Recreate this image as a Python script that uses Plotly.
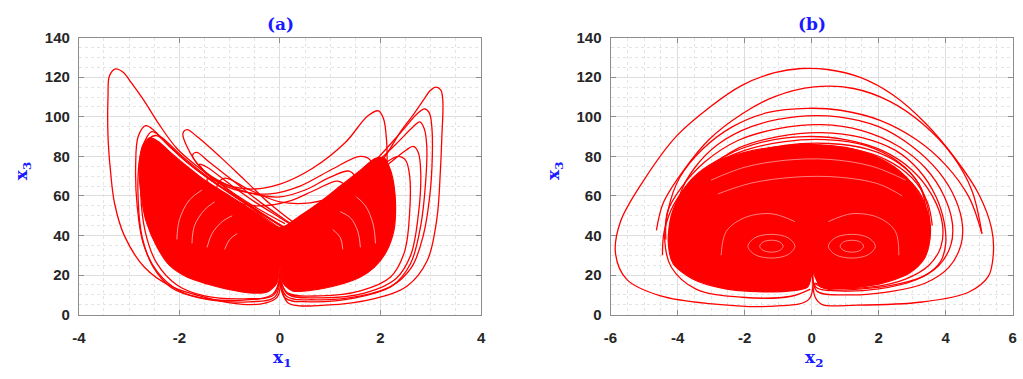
import plotly.graph_objects as go

# ---------------- tick labels ----------------
a_tick_vals = [-4, -2, 0, 2, 4]
a_tick_text = ["-4", "-2", "0", "2", "4"]
b_tick_vals = [-6, -4, -2, 0, 2, 4, 6]
b_tick_text = ["-6", "-4", "-2", "0", "2", "4", "6"]
z_tick_vals = [0, 20, 40, 60, 80, 100, 120, 140]
z_tick_text = ["0", "20", "40", "60", "80", "100", "120", "140"]

# ---------------- panel (a): x1 vs x3 ----------------
# densely visited core of the attractor
a_core_x = [0.0, -0.5, -1.0, -1.5, -1.9, -2.2, -2.42, -2.58, -2.72, -2.8, -2.76, -2.66, -2.44, -2.2, -1.85,
            -1.45, -1.07, -0.6, -0.25, -0.06, 0.0, 0.06, 0.25, 0.6, 1.23, 1.6, 1.88, 2.12, 2.27, 2.3, 2.27,
            2.2, 2.08, 1.9, 1.6, 1.2, 0.8, 0.4, 0.0]
a_core_y = [44, 52, 60, 68, 76, 82.5, 87.5, 89.5, 86, 75, 60, 47, 34, 25, 19,
            15.5, 13, 11, 11.5, 16, 24, 16, 12, 12.2, 15.5, 19, 24, 32, 43, 55, 65,
            73, 79, 79, 73, 65, 57, 50, 44]

# individual excursions
a_loop1_x = [0.02, -0.05, -0.3, -0.74, -1.39, -2.18, -2.7, -3.1, -3.29, -3.37, -3.42, -3.42, -3.39, -3.27,
             -3.12, -2.95, -2.7, -2.4, -2.05, -1.6, -1.26, -0.8, -0.3, 0.2, 0.6]
a_loop1_y = [22, 9, 5.8, 5.2, 8.1, 14.5, 24.1, 40.2, 56.3, 72.4, 90, 110, 120.7, 124.2,
             122.5, 117, 108, 96, 84, 74, 67.6, 58.5, 49, 40, 33]
a_loop2_x = [0.0, 0.05, 0.18, 0.9, 1.88, 2.53, 2.93, 3.12, 3.19, 3.22, 3.24, 3.2, 3.1, 2.98, 2.88, 2.65,
             2.42, 1.96, 1.4, 0.8, 0.3, -0.3, -0.8]
a_loop2_y = [21, 11.3, 5.6, 4.8, 8.1, 14.5, 27.4, 48.3, 72.4, 90, 107.8, 113.5, 115, 113, 109.4, 101,
             93.3, 75.6, 64, 54, 47, 38, 30]
a_loop3_x = [0.0, -0.1, -0.6, -1.4, -2.0, -2.45, -2.72, -2.84, -2.87, -2.82, -2.67, -2.5, -2.2, -1.7,
             -1.1, -0.5, 0.1, 0.6]
a_loop3_y = [22, 9, 6.5, 7.5, 12, 22, 36, 55, 75, 90, 95.5, 93, 85, 74, 63, 53, 44, 37]
a_loop4_x = [0.0, -0.12, -0.7, -1.5, -2.05, -2.45, -2.68, -2.77, -2.74, -2.6, -2.45, -2.25, -1.8, -1.2,
             -0.6, 0.0, 0.5]
a_loop4_y = [21, 10, 8, 9.5, 15, 26, 42, 62, 80, 89, 90.5, 86.5, 76, 65, 55, 45, 38]
a_loop5_x = [0.0, 0.1, 0.6, 1.5, 2.2, 2.62, 2.85, 2.98, 3.03, 3.02, 2.97, 2.88, 2.75, 2.4, 1.9, 1.3,
             0.7, 0.2, -0.3]
a_loop5_y = [22, 8.5, 6.5, 8.5, 14, 24, 40, 60, 80, 95, 102, 104, 102, 92, 78, 64, 53, 45, 38]
a_loop6_x = [0.0, 0.12, 0.7, 1.6, 2.25, 2.6, 2.8, 2.9, 2.92, 2.87, 2.78, 2.65, 2.3, 1.8, 1.2, 0.6, 0.1]
a_loop6_y = [21, 9.5, 7.5, 9.5, 15, 26, 45, 68, 85, 94, 97.4, 95, 86, 74, 62, 52, 44]
a_loop7_x = [0.0, 0.15, 0.8, 1.7, 2.3, 2.6, 2.75, 2.8, 2.75, 2.65, 2.5, 2.1, 1.5, 0.9, 0.3]
a_loop7_y = [20, 10.5, 8.5, 11, 18, 30, 50, 72, 82, 85, 83, 75, 64, 55, 46]
a_loop8_x = [0.0, 0.15, 0.8, 1.6, 2.2, 2.48, 2.58, 2.58, 2.5, 2.35, 2.0, 1.4, 0.8, 0.2]
a_loop8_y = [19, 11, 9.5, 12, 19, 32, 52, 70, 78, 80, 75, 65, 56, 46]
a_loop9_x = [0.0, -0.14, -0.8, -1.6, -2.15, -2.52, -2.74, -2.82, -2.8, -2.7, -2.55, -2.35, -1.9, -1.3,
             -0.7, -0.1, 0.4]
a_loop9_y = [20, 10.5, 7.2, 8.6, 13.5, 24, 39, 58, 77, 87, 92.5, 89.5, 79, 67, 57, 47, 39]
# crossings from one wing to the other over the top
a_cross1_x = [2.1, 2.13, 2.12, 2.06, 1.96, 1.75, 1.3, 0.65, 0.0, -0.6, -1.2, -1.6, -1.85, -1.93, -1.85,
              -1.65, -1.2, -0.7, -0.2, 0.3, 0.8]
a_cross1_y = [50, 70, 88, 99, 103, 100.5, 87, 74, 66, 63.5, 67, 75, 85, 91.5, 93.5,
              90, 80, 68, 56, 46, 37]
a_cross2_x = [1.8, 1.85, 1.8, 1.6, 1.0, 0.4, -0.2, -0.8, -1.3, -1.62, -1.74, -1.66, -1.4, -0.9, -0.4,
              0.1, 0.6]
a_cross2_y = [55, 70, 78, 80, 73, 65, 61, 62.5, 68, 75.5, 80.5, 82, 77, 67, 57, 48, 40]
a_cross3_x = [1.5, 1.52, 1.38, 1.0, 0.5, 0.0, -0.6, -1.2, -1.52, -1.6, -1.45, -1.0, -0.5, 0.0, 0.5]
a_cross3_y = [58, 68, 72.5, 69.5, 63, 59.5, 61.5, 67.5, 73, 76, 74.5, 66, 57, 49, 41]
a_cross4_x = [1.3, 1.32, 1.15, 0.7, 0.2, -0.4, -1.0, -1.35, -1.45, -1.3, -0.9, -0.4, 0.1]
a_cross4_y = [55, 64, 67.5, 63, 57.5, 55, 58, 64, 68.5, 68, 61, 53, 46]
a_cross5_x = [-1.2, -1.25, -1.1, -0.6, 0.0, 0.6, 1.2, 1.6, 1.75, 1.85, 1.9]
a_cross5_y = [55, 65, 69, 63, 57, 56.5, 61, 68, 74, 68, 55]
# thin gaps between neighbouring turns inside the wings
a_gap1_x = [-2.05, -2.0, -1.8, -1.55]
a_gap1_y = [38, 48, 58, 63]
a_gap2_x = [-1.75, -1.7, -1.5, -1.3]
a_gap2_y = [36, 45, 53, 57]
a_gap3_x = [-1.45, -1.35, -1.15, -0.95]
a_gap3_y = [34, 41, 47, 50]
a_gap4_x = [-1.1, -1.0, -0.85]
a_gap4_y = [33, 38, 41]
a_gap5_x = [1.9, 1.85, 1.7, 1.5]
a_gap5_y = [36, 46, 55, 60]
a_gap6_x = [1.6, 1.55, 1.4, 1.2]
a_gap6_y = [34, 42, 49, 52]
a_gap7_x = [1.25, 1.2, 1.05]
a_gap7_y = [33, 39, 43]

# ---------------- panel (b): x2 vs x3 ----------------
b_core_x = [-4.28, -4.19, -3.94, -3.55, -2.9, -2.0, -1.0, 0.0, 1.0, 1.9, 2.6, 3.05, 3.38, 3.54, 3.5,
            3.35, 2.92, 2.04, 0.86, 0.27, 0.03, -0.12, -1.1, -2.57, -3.55, -4.14, -4.28]
b_core_y = [37, 50, 60, 69, 77, 82, 85, 86, 84.5, 80, 73, 65, 55, 45, 35,
            28, 21, 15.5, 13.2, 14, 21, 14, 11.5, 13, 18, 26, 37]

b_loop1_x = [0.0, -0.07, -1.1, -3.06, -4.53, -5.51, -5.85, -5.71, -5.02, -4.04, -3.06, -2.08, -1.1, -0.31,
             0.47, 1.45, 2.43, 3.41, 4.29, 4.98, 5.37, 5.42, 5.27, 4.68, 3.3, 1.34, 0.3, 0.1, 0.03]
b_loop1_y = [24, 8, 4.3, 5.6, 9.6, 17.7, 30.6, 46.7, 67.6, 90.1, 104.6, 115.9, 122.3, 124.4,
             123.9, 119.9, 111, 96.5, 78.8, 61.1, 43.4, 30.6, 19.3, 11.3, 6.4, 4.8, 5.2, 9, 19]
b_loop2_x = [-4.63, -4.43, -3.84, -3.06, -2.08, -1.1, 0.08, 1.25, 2.33, 3.31, 4.2, 4.78, 5.08]
b_loop2_y = [42.6, 56.3, 72.4, 88.5, 101.4, 110.2, 115.1, 114.3, 107.8, 96.5, 80.5, 62.8, 41.0]
b_loop3_x = [5.08, 4.69, 4.0, 3.12, 2.04, 0.86, -0.12, -1.29, -2.37, -3.25, -3.94, -4.28, -4.38, -4.19,
             -3.45, -2.08, -0.61, -0.04]
b_loop3_y = [41.0, 59.5, 75.6, 88.5, 98.2, 103.3, 104.3, 102.2, 94.9, 83.7, 69.2, 53.1, 37.0, 24.1,
             12.9, 8.8, 9.3, 12.9]
b_loop4_x = [-3.8, -4.05, -3.9, -3.5, -2.8, -1.8, -0.5, 0.8, 2.0, 3.0, 3.8, 4.3, 4.5, 4.45, 4.1, 3.4,
             2.3, 1.0, 0.15, 0.03]
b_loop4_y = [40, 50, 62, 74, 86, 95, 100, 100, 95, 85, 72, 58, 45, 35, 24, 16, 11.5, 10, 12, 22]
b_loop5_x = [-4.35, -4.3, -3.9, -3.2, -2.2, -1.0, 0.3, 1.5, 2.6, 3.4, 3.95, 4.2, 4.15, 3.8, 3.1, 2.0,
             0.8, 0.12, 0.02]
b_loop5_y = [38, 52, 64, 77, 88, 94, 96, 93, 85, 74, 60, 46, 35, 25, 17.5, 13, 12, 14, 24]
b_loop6_x = [-4.45, -4.4, -4.1, -3.5, -2.6, -1.4, -0.2, 1.0, 2.1, 3.0, 3.6, 3.9, 3.85, 3.5, 2.8, 1.8,
             0.7, 0.1]
b_loop6_y = [30, 42, 56, 69, 80, 87.5, 90, 88.5, 83, 73, 60, 46, 34, 25, 18, 14, 13.5, 16]
b_loop7_x = [-4.2, -4.1, -3.7, -3.0, -2.0, -0.8, 0.4, 1.6, 2.6, 3.2, 3.48, 3.53]
b_loop7_y = [30, 50, 63, 75, 83, 87.5, 88.5, 85.5, 77, 66, 53, 43]
b_loop8_x = [3.53, 3.45, 3.2, 2.7, 2.0]
b_loop8_y = [43, 52, 62, 71, 78]
b_loop9_x = [-3.9, -3.7, -3.1, -2.2, -1.0, 0.3, 1.5, 2.5, 3.2, 3.7, 3.95, 4.0, 3.85, 3.4, 2.6, 1.5,
             0.5, 0.06]
b_loop9_y = [45, 60, 73, 84, 90, 92, 89.5, 83, 73, 60, 47, 36, 27, 20, 15.5, 13, 12.8, 16]
b_loop10_x = [-4.0, -3.9, -3.4, -2.6, -1.5, -0.2, 1.1, 2.2, 3.0, 3.45, 3.6]
b_loop10_y = [40, 55, 67, 77, 83, 85.5, 84, 78.5, 69, 57, 45]
b_loop11_x = [-3.7, -3.5, -2.9, -2.0, -0.8, 0.5, 1.7, 2.6, 3.2, 3.4]
b_loop11_y = [45, 60, 72, 80.5, 85.5, 86.5, 83.5, 76.5, 66, 55]

# thin unvisited rings around the two foci and gaps between turns
b_ring1_x = [-1.9, -1.7, -1.2, -0.7, -0.5, -0.7, -1.2, -1.7, -1.9]
b_ring1_y = [34.6, 38.8, 40.6, 38.8, 34.6, 30.4, 28.6, 30.4, 34.6]
b_ring2_x = [-1.55, -1.45, -1.2, -0.95, -0.85, -0.95, -1.2, -1.45, -1.55]
b_ring2_y = [34.6, 36.7, 37.6, 36.7, 34.6, 32.5, 31.6, 32.5, 34.6]
b_ring3_x = [0.5, 0.7, 1.2, 1.7, 1.9, 1.7, 1.2, 0.7, 0.5]
b_ring3_y = [34.6, 38.8, 40.6, 38.8, 34.6, 30.4, 28.6, 30.4, 34.6]
b_ring4_x = [0.85, 0.95, 1.2, 1.45, 1.55, 1.45, 1.2, 0.95, 0.85]
b_ring4_y = [34.6, 36.7, 37.6, 36.7, 34.6, 32.5, 31.6, 32.5, 34.6]
b_gap1_x = [-3.0, -2.0, -0.8, 0.5, 1.8, 2.8]
b_gap1_y = [68, 74.5, 78, 78.5, 75, 68]
b_gap2_x = [-2.8, -1.8, -0.5, 0.8, 2.0, 2.7]
b_gap2_y = [61, 66.5, 69.5, 69.5, 66, 60]
b_gap3_x = [-2.7, -2.55, -2.0, -1.2, -0.5]
b_gap3_y = [30, 42, 49, 51, 47]
b_gap4_x = [2.6, 2.5, 2.0, 1.2, 0.5]
b_gap4_y = [30, 42, 49, 51, 47]

RED = "#ff0000"
BLUE = "#1a1aff"
fig = go.Figure()


def core(x, y, xa, ya):
    fig.add_trace(go.Scatter(x=x, y=y, xaxis=xa, yaxis=ya, mode="lines", fill="toself",
                             fillcolor=RED, line=dict(color=RED, width=1.2, shape="spline", smoothing=0.8),
                             hoverinfo="skip", showlegend=False))


def path(x, y, xa, ya, color=RED, width=1.3):
    fig.add_trace(go.Scatter(x=x, y=y, xaxis=xa, yaxis=ya, mode="lines",
                             line=dict(color=color, width=width, shape="spline", smoothing=1.0),
                             hoverinfo="skip", showlegend=False))


core(a_core_x, a_core_y, "x", "y")
for xs, ys in [(a_gap1_x, a_gap1_y), (a_gap2_x, a_gap2_y), (a_gap3_x, a_gap3_y), (a_gap4_x, a_gap4_y),
               (a_gap5_x, a_gap5_y), (a_gap6_x, a_gap6_y), (a_gap7_x, a_gap7_y)]:
    path(xs, ys, "x", "y", color="white", width=0.6)
for xs, ys in [(a_loop1_x, a_loop1_y), (a_loop2_x, a_loop2_y), (a_loop3_x, a_loop3_y),
               (a_loop4_x, a_loop4_y), (a_loop5_x, a_loop5_y), (a_loop6_x, a_loop6_y),
               (a_loop7_x, a_loop7_y), (a_loop8_x, a_loop8_y), (a_loop9_x, a_loop9_y),
               (a_cross1_x, a_cross1_y), (a_cross2_x, a_cross2_y), (a_cross3_x, a_cross3_y),
               (a_cross4_x, a_cross4_y), (a_cross5_x, a_cross5_y)]:
    path(xs, ys, "x", "y")

core(b_core_x, b_core_y, "x2", "y2")
for xs, ys in [(b_ring1_x, b_ring1_y), (b_ring2_x, b_ring2_y), (b_ring3_x, b_ring3_y),
               (b_ring4_x, b_ring4_y), (b_gap1_x, b_gap1_y), (b_gap2_x, b_gap2_y),
               (b_gap3_x, b_gap3_y), (b_gap4_x, b_gap4_y)]:
    path(xs, ys, "x2", "y2", color="white", width=0.5)
for xs, ys in [(b_loop1_x, b_loop1_y), (b_loop2_x, b_loop2_y), (b_loop3_x, b_loop3_y),
               (b_loop4_x, b_loop4_y), (b_loop5_x, b_loop5_y), (b_loop6_x, b_loop6_y),
               (b_loop7_x, b_loop7_y), (b_loop8_x, b_loop8_y), (b_loop9_x, b_loop9_y),
               (b_loop10_x, b_loop10_y), (b_loop11_x, b_loop11_y)]:
    path(xs, ys, "x2", "y2")

TICKFONT = dict(family="Liberation Sans, Arial, sans-serif", size=15, color="#262626", weight="bold")


def axis_style(**kw):
    base = dict(showline=True, linecolor="#8c8c8c", linewidth=1, mirror="ticks",
                ticks="inside", ticklen=5, tickcolor="#8c8c8c", tickwidth=1,
                showgrid=True, gridcolor="#dedede", gridwidth=1, zeroline=False,
                tickfont=TICKFONT, tickmode="array", fixedrange=True)
    base.update(kw)
    return base


ydom = [59 / 379, 349 / 379]
minor_x = dict(dtick=0.5, tick0=0, showgrid=True, gridcolor="#e4e4e4", griddash="dot", ticks="")
minor_y = dict(dtick=5, tick0=0, showgrid=True, gridcolor="#e4e4e4", griddash="dot", ticks="")
fig.update_layout(
    width=1023, height=379, margin=dict(l=0, r=0, t=0, b=0),
    paper_bgcolor="white", plot_bgcolor="white",
    xaxis=axis_style(domain=[72.7 / 1023, 479.7 / 1023], range=[-4, 4], anchor="y",
                     tickvals=a_tick_vals, ticktext=a_tick_text, minor=minor_x, ticklabelstandoff=9),
    yaxis=axis_style(domain=ydom, range=[0, 140], anchor="x",
                     tickvals=z_tick_vals, ticktext=z_tick_text, minor=minor_y, ticklabelstandoff=5),
    xaxis2=axis_style(domain=[610.7 / 1023, 1017.7 / 1023], range=[-6, 6], anchor="y2",
                      tickvals=b_tick_vals, ticktext=b_tick_text, minor=minor_x, ticklabelstandoff=9),
    yaxis2=axis_style(domain=ydom, range=[0, 140], anchor="x2",
                      tickvals=z_tick_vals, ticktext=z_tick_text, minor=minor_y, ticklabelstandoff=5),
)

LABELFONT = dict(family="DejaVu Serif, Liberation Serif, serif", size=17, color=BLUE, weight="bold")
notes = [
    ("(a)", 276.3, 16, 0), ("(b)", 814.7, 16, 0),
    ("x<sub>1</sub>", 278, 366, 0), ("x<sub>2</sub>", 816.5, 366, 0),
    ("x<sub>3</sub>", 16, 170, -90), ("x<sub>3</sub>", 554, 170, -90),
]
for text, px, py, ang in notes:
    fig.add_annotation(text=text, x=px / 1023, y=1 - py / 379, xref="paper", yref="paper",
                       showarrow=False, font=LABELFONT, textangle=ang,
                       xanchor="center", yanchor="middle")

fig.write_html("out.html")
